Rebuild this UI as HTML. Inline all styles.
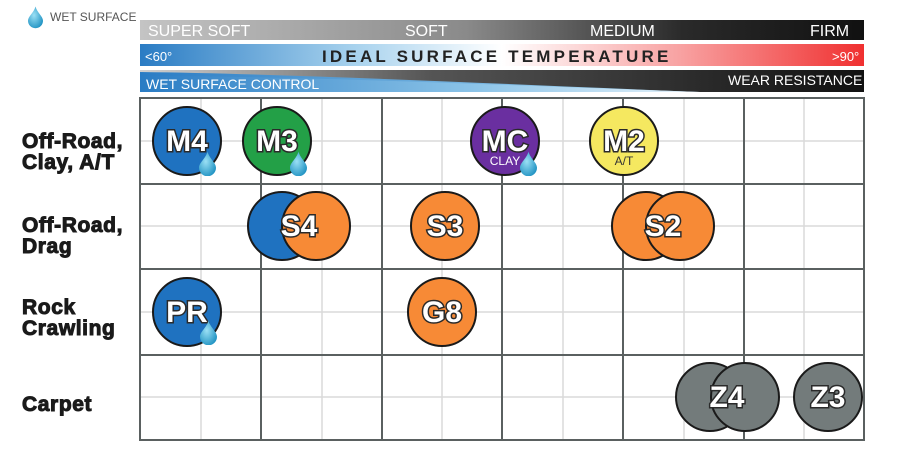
<!DOCTYPE html>
<html><head><meta charset="utf-8"><style>
html,body{margin:0;padding:0;background:#fff;width:900px;height:462px;overflow:hidden}
svg{display:block}
.lbl{font-family:"Liberation Sans",sans-serif;font-weight:bold;font-size:21px;fill:#1a1a1a;stroke:#1a1a1a;stroke-width:1px;letter-spacing:0.6px}
.ct{font-family:"Liberation Sans",sans-serif;font-weight:bold;font-size:30px;fill:#fff;stroke:#2a2a2a;stroke-width:3px;paint-order:stroke;text-anchor:middle}
.sub{font-family:"Liberation Sans",sans-serif;font-size:12px;text-anchor:middle}
</style></head><body>
<svg width="900" height="462" viewBox="0 0 900 462" xmlns="http://www.w3.org/2000/svg">
<defs>
<linearGradient id="g1" x1="0" x2="1"><stop offset="0" stop-color="#c4c4c4"/><stop offset="0.45" stop-color="#8a8a8a"/><stop offset="0.75" stop-color="#2a2a2a"/><stop offset="1" stop-color="#111"/></linearGradient>
<linearGradient id="g2" x1="0" x2="1"><stop offset="0" stop-color="#2a7cc4"/><stop offset="0.3" stop-color="#a9d3ee"/><stop offset="0.5" stop-color="#fff"/><stop offset="0.75" stop-color="#f8a0a0"/><stop offset="1" stop-color="#f03030"/></linearGradient>
<linearGradient id="g3" x1="0" x2="1"><stop offset="0" stop-color="#2a7cc4"/><stop offset="0.6" stop-color="#8cc4e8"/><stop offset="1" stop-color="#e8f4fb"/></linearGradient>
<linearGradient id="g4" x1="0" x2="1"><stop offset="0" stop-color="#d0d0d0"/><stop offset="0.4" stop-color="#555"/><stop offset="1" stop-color="#111"/></linearGradient>
<radialGradient id="dr" cx="0.4" cy="0.4" r="0.7"><stop offset="0" stop-color="#9be0f5"/><stop offset="1" stop-color="#1a8fc0"/></radialGradient>
<symbol id="drop" viewBox="0 0 20 28"><path d="M10 0 C12 8 20 13 20 19 A10 10 0 0 1 0 19 C0 13 8 8 10 0Z" fill="url(#dr)"/></symbol>
</defs>
<use href="#drop" x="28" y="5" width="15" height="24"/>
<text x="50" y="21" font-family="Liberation Sans,sans-serif" font-size="12" fill="#555">WET SURFACE</text>
<rect x="140" y="20" width="724" height="20" fill="url(#g1)"/>
<g font-family="Liberation Sans,sans-serif" font-size="16" fill="#fff">
<text x="148" y="36">SUPER SOFT</text><text x="405" y="36">SOFT</text><text x="590" y="36">MEDIUM</text><text x="810" y="36">FIRM</text></g>
<rect x="140" y="44" width="724" height="22" fill="url(#g2)"/>
<text x="145" y="61" font-family="Liberation Sans,sans-serif" font-size="13" fill="#fff">&lt;60°</text>
<text x="832" y="61" font-family="Liberation Sans,sans-serif" font-size="13" fill="#fff">&gt;90°</text>
<text x="322" y="62" font-family="Liberation Sans,sans-serif" font-size="17" font-weight="bold" fill="#222" letter-spacing="3.2">IDEAL SURFACE TEMPERATURE</text>
<rect x="140" y="70" width="724" height="22" fill="url(#g3)"/>
<path d="M140 70 L864 70 L864 92 L700 92 C500 84 300 74 140 72Z" fill="url(#g4)"/>
<path d="M140 76 C300 76 500 85 700 92 L140 92Z" fill="url(#g3)"/>
<text x="146" y="89" font-family="Liberation Sans,sans-serif" font-size="14" fill="#fff">WET SURFACE CONTROL</text>
<text x="728" y="85" font-family="Liberation Sans,sans-serif" font-size="14" fill="#fff">WEAR RESISTANCE</text>
<g stroke="#dadada" stroke-width="1.5">
<line x1="201" y1="98" x2="201" y2="440"/><line x1="322" y1="98" x2="322" y2="440"/><line x1="442" y1="98" x2="442" y2="440"/><line x1="563" y1="98" x2="563" y2="440"/><line x1="684" y1="98" x2="684" y2="440"/><line x1="804" y1="98" x2="804" y2="440"/>
<line x1="140" y1="141" x2="864" y2="141"/><line x1="140" y1="226" x2="864" y2="226"/><line x1="140" y1="312" x2="864" y2="312"/><line x1="140" y1="397" x2="864" y2="397"/>
</g>
<g stroke="#5a6060" stroke-width="2" fill="none">
<rect x="140" y="98" width="724" height="342"/>
<line x1="261" y1="98" x2="261" y2="440"/><line x1="382" y1="98" x2="382" y2="440"/><line x1="502" y1="98" x2="502" y2="440"/><line x1="623" y1="98" x2="623" y2="440"/><line x1="744" y1="98" x2="744" y2="440"/>
<line x1="140" y1="184" x2="864" y2="184"/><line x1="140" y1="269" x2="864" y2="269"/><line x1="140" y1="355" x2="864" y2="355"/>
</g>
<text class="lbl" x="22" y="148">Off-Road,</text><text class="lbl" x="22" y="169">Clay, A/T</text>
<text class="lbl" x="22" y="232">Off-Road,</text><text class="lbl" x="22" y="253">Drag</text>
<text class="lbl" x="22" y="314">Rock</text><text class="lbl" x="22" y="335">Crawling</text>
<text class="lbl" x="22" y="411">Carpet</text>
<g stroke="#1a1a1a" stroke-width="2">
<circle cx="187" cy="141" r="34" fill="#1f72c0"/>
<circle cx="277" cy="141" r="34" fill="#23a047"/>
<circle cx="505" cy="141" r="34" fill="#6a2fa0"/>
<circle cx="624" cy="141" r="34" fill="#f5e860"/>
<circle cx="282" cy="226" r="34" fill="#1f72c0"/>
<circle cx="316" cy="226" r="34" fill="#f78a36"/>
<circle cx="445" cy="226" r="34" fill="#f78a36"/>
<circle cx="646" cy="226" r="34" fill="#f78a36"/>
<circle cx="680" cy="226" r="34" fill="#f78a36"/>
<circle cx="187" cy="312" r="34" fill="#1f72c0"/>
<circle cx="442" cy="312" r="34" fill="#f78a36"/>
<circle cx="710" cy="397" r="34" fill="#737b7b"/>
<circle cx="745" cy="397" r="34" fill="#737b7b"/>
<circle cx="828" cy="397" r="34" fill="#737b7b"/>
</g>
<text class="ct" x="187" y="151">M4</text>
<text class="ct" x="277" y="151">M3</text>
<text class="ct" x="505" y="151">MC</text>
<text class="sub" x="505" y="165" fill="#fff">CLAY</text>
<text class="ct" x="624" y="151">M2</text>
<text class="sub" x="624" y="165" fill="#333">A/T</text>
<text class="ct" x="299" y="236">S4</text>
<text class="ct" x="445" y="236">S3</text>
<text class="ct" x="663" y="236">S2</text>
<text class="ct" x="187" y="322">PR</text>
<text class="ct" x="442" y="322">G8</text>
<text class="ct" x="727" y="407">Z4</text>
<text class="ct" x="828" y="407">Z3</text>
<use href="#drop" x="199" y="151" width="17" height="25"/>
<use href="#drop" x="290" y="151" width="17" height="25"/>
<use href="#drop" x="520" y="151" width="17" height="25"/>
<use href="#drop" x="200" y="320" width="17" height="25"/>
</svg>
</body></html>
